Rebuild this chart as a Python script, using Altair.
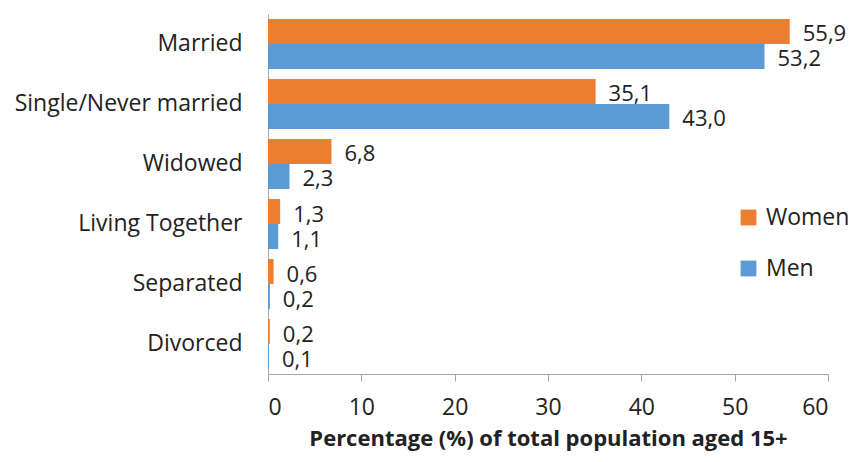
import altair as alt
import pandas as pd

categories = ["Married", "Single/Never married", "Widowed", "Living Together", "Separated", "Divorced"]
women = [55.9, 35.1, 6.8, 1.3, 0.6, 0.2]
men = [53.2, 43.0, 2.3, 1.1, 0.2, 0.1]
series = ["Women", "Men"]
colors = ["#ED7D31", "#5B9BD5"]

rows = []
for c, w, m in zip(categories, women, men):
    rows.append({"status": c, "series": "Women", "value": w})
    rows.append({"status": c, "series": "Men", "value": m})
df = pd.DataFrame(rows)

FONT = "Open Sans"
FS = 23

base = alt.Chart(df).encode(
    y=alt.Y("status:N", sort=categories, title=None,
            scale=alt.Scale(paddingInner=0.1667, paddingOuter=0.0833),
            axis=alt.Axis(ticks=False, domain=True, domainColor="#A6A6A6", labelFontSize=FS,
                          labelFont=FONT, labelColor="#222222", labelPadding=26,
                          minExtent=260, maxExtent=260, labelLimit=300)),
    yOffset=alt.YOffset("series:N", sort=series),
)

bars = base.mark_bar().encode(
    x=alt.X("value:Q", scale=alt.Scale(domain=[0, 60]),
            axis=alt.Axis(values=[0, 10, 20, 30, 40, 50, 60], grid=False, tickSize=7,
                          tickColor="#A6A6A6", domainColor="#A6A6A6", labelFontSize=FS,
                          labelFont=FONT, labelColor="#222222", labelPadding=15,
                          title="Percentage (%) of total population aged 15+",
                          titleFont=FONT, titleFontSize=22, titleFontWeight="bold",
                          titleColor="#222222", titlePadding=9)),
    color=alt.Color("series:N", sort=series,
                    scale=alt.Scale(domain=series, range=colors),
                    legend=alt.Legend(title=None, orient="none", legendX=469, legendY=192,
                                      symbolType="square", symbolSize=250, symbolStrokeWidth=0,
                                      labelFontSize=FS, labelFont=FONT, labelColor="#222222",
                                      rowPadding=27, labelOffset=6)),
)

labels = base.mark_text(align="left", baseline="middle", dx=13, dy=3, fontSize=22,
                        font=FONT, color="#222222").transform_calculate(
    label="replace(format(datum.value, '.1f'), '.', ',')"
).encode(
    x="value:Q",
    text="label:N",
)

chart = (bars + labels).properties(
    width=560, height=360,
    padding={"left": 0, "top": 6, "right": 0, "bottom": 6},
).configure_view(stroke=None)

chart.save("out.html", embed_options={"renderer": "svg", "actions": False})
